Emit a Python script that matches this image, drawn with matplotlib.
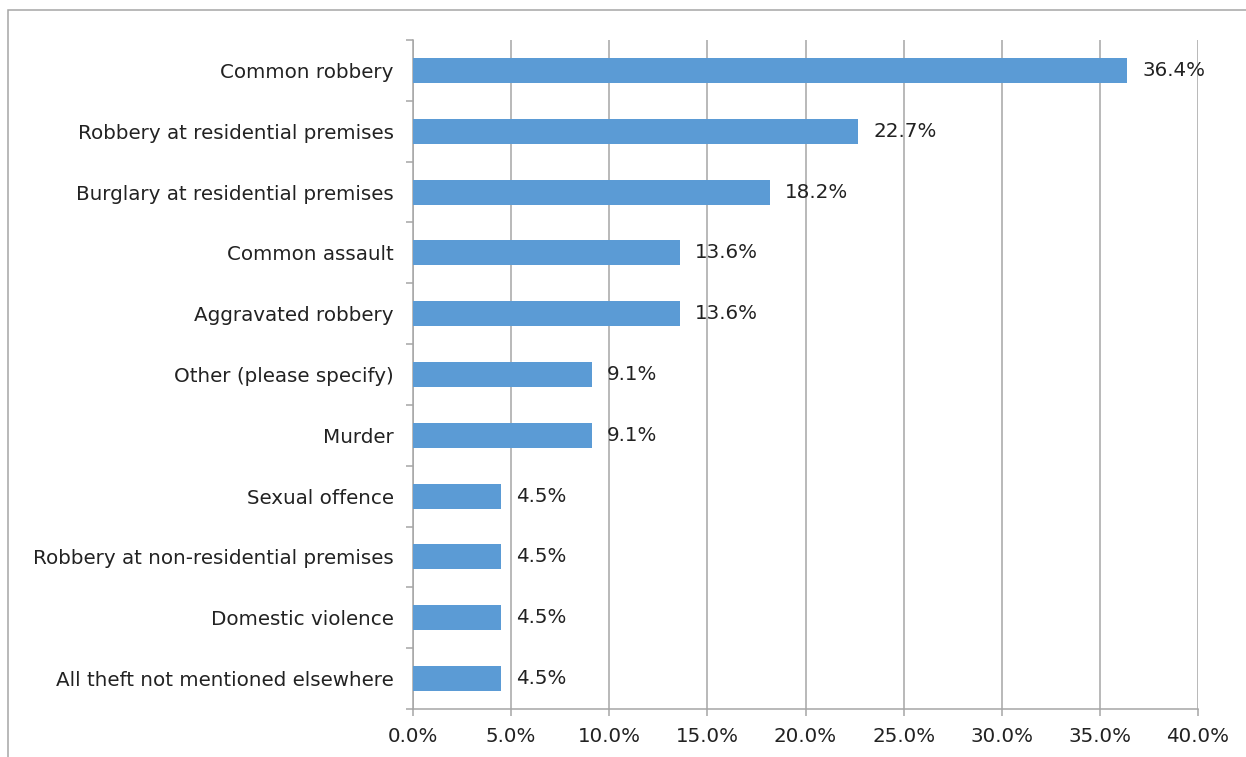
import matplotlib.pyplot as plt
from matplotlib.patches import Rectangle
from matplotlib.ticker import FuncFormatter

categories = ['All theft not mentioned elsewhere', 'Domestic violence',
              'Robbery at non-residential premises', 'Sexual offence', 'Murder',
              'Other (please specify)', 'Aggravated robbery', 'Common assault',
              'Burglary at residential premises', 'Robbery at residential premises',
              'Common robbery']
values = [4.5, 4.5, 4.5, 4.5, 9.1, 9.1, 13.6, 13.6, 18.2, 22.7, 36.4]

plt.rcParams['font.family'] = ['DejaVu Sans']
grid_col = '#A6A6A6'
fs = 14.3

fig = plt.figure(figsize=(12.46, 7.57), dpi=100)
ax = fig.add_axes([413 / 1246, 1 - 709 / 757, 785 / 1246, 669 / 757])

# outer chart frame (only left and top edges fall inside the image)
fig.patches.append(Rectangle((8 / 1246, -0.1), 1.2, 1 - 10 / 757 + 0.1,
                             transform=fig.transFigure, fill=False,
                             edgecolor=grid_col, linewidth=1.1))

ypos = range(len(categories))
ax.barh(ypos, values, height=0.41, color='#5B9BD5', zorder=3)
for y, v in zip(ypos, values):
    ax.text(v + 0.75, y, f'{v:.1f}%', va='center', ha='left', fontsize=fs,
            color='#222222', zorder=4)

ax.set_xlim(0, 40)
ax.set_ylim(-0.5, len(categories) - 0.5)
ax.set_xticks(range(0, 41, 5))
ax.xaxis.set_major_formatter(FuncFormatter(lambda x, p: f'{x:.1f}%'))
ax.set_yticks(list(ypos))
ax.set_yticklabels(categories)
ax.set_yticks([i - 0.5 for i in range(len(categories) + 1)], minor=True)
ax.tick_params(axis='y', which='major', length=0, pad=14, labelsize=fs,
               labelcolor='#222222')
ax.tick_params(axis='y', which='minor', length=5, color=grid_col, width=1.1)
ax.tick_params(axis='x', length=5, color=grid_col, width=1.1, pad=8,
               labelsize=fs, labelcolor='#222222')

ax.grid(axis='x', color=grid_col, linewidth=1.1, zorder=0)
for side in ['top', 'right']:
    ax.spines[side].set_visible(False)
for side in ['left', 'bottom']:
    ax.spines[side].set_color(grid_col)
    ax.spines[side].set_linewidth(1.1)

fig.savefig('out.png', dpi=100)
